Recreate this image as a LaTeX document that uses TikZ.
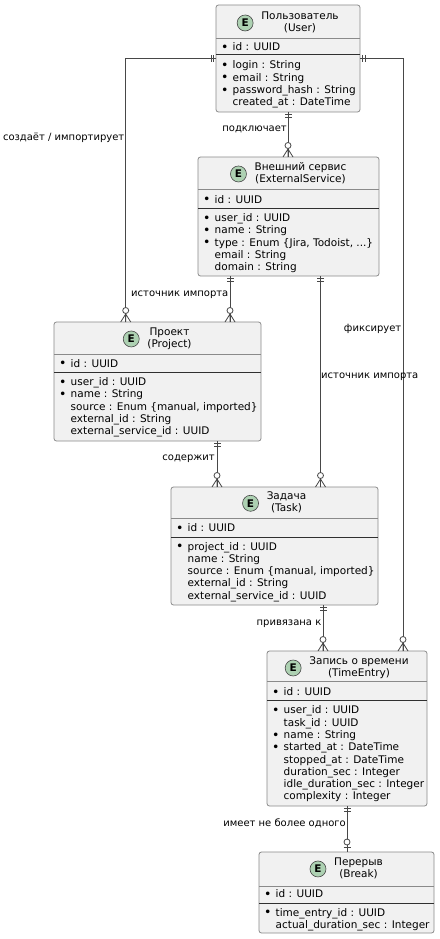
\documentclass[tikz,border=0pt]{standalone}
\usepackage{fontspec}
\setmainfont{DejaVu Sans}
\definecolor{boxf}{HTML}{F1F1F1}
\definecolor{boxc}{HTML}{8A8A8A}
\definecolor{linec}{HTML}{474747}
\definecolor{sepc}{HTML}{303030}
\definecolor{spotc}{HTML}{ADD1B2}
\newcommand\attrfont{\fontsize{10.5}{12.3}\selectfont}
\newcommand\titlefont{\fontsize{10.5}{11.6}\selectfont}
\newcommand\lblfont{\fontsize{10}{12}\selectfont}
\newcommand\spotfont{\fontsize{10.5}{12}\selectfont\bfseries}
\newcommand\entbul{\makebox[11pt][l]{\hspace*{-0.5pt}\raisebox{-0.6pt}{\fontsize{12.5}{12}\selectfont •}}}
\newcommand\entnob{\hspace*{11pt}}
\tikzset{
  ent/.style={draw=boxc, fill=boxf, rounded corners=2.5pt, line width=0.8pt, inner sep=0pt, outer sep=0pt, anchor=north west},
  hdr/.style={draw=boxc, line width=0.8pt},
  idsep/.style={draw=sepc, line width=1pt},
  conn/.style={draw=linec, line width=0.8pt},
  attr/.style={anchor=base west, inner sep=0pt, font=\attrfont},
  ttl/.style={anchor=base, inner sep=0pt, font=\titlefont},
  lbl/.style={inner sep=0pt, font=\lblfont},
  spot/.style={circle, draw=linec, fill=spotc, line width=0.6pt, minimum size=16pt, inner sep=0pt, font=\spotfont},
  onlyone/.pic={\draw[conn] (2.5,-3.5) -- (2.5,3.5) (5,-3.5) -- (5,3.5);},
  zeromany/.pic={\draw[conn] (0,-5) -- (8,0) -- (0,5) (0,0) -- (8,0); \draw[conn, fill=white] (11.5,0) circle[radius=3];},
  zeroone/.pic={\draw[conn] (4.5,-3.5) -- (4.5,3.5); \draw[conn, fill=white] (10,0) circle[radius=3];},
}
\newcommand\mkentity[7]{%
  \node[ent, minimum width=#4pt, minimum height=#5pt] (#1) at (#2,#3) {};
  \draw[hdr] (#1.west |- 0,#6) -- (#1.east |- 0,#6);
  \draw[idsep] (#1.west |- 0,#7) -- (#1.east |- 0,#7);
}
\begin{document}
\begin{tikzpicture}[x=1pt, y=-1pt]
\fill[white] (0,0) rectangle (439,939);
\useasboundingbox (0,0) rectangle (439,939);

% ---------- entities ----------
\mkentity{user}{216}{5}{144}{107}{38}{55}
\mkentity{es}{198}{157}{181}{119}{189}{208}
\mkentity{project}{54}{322}{207}{119}{354}{372}
\mkentity{task}{171}{487}{207}{118}{518}{537}
\mkentity{te}{267}{651}{160}{155}{681}{700}
\mkentity{brk}{259}{852}{175}{81}{886}{903}

% ---------- titles ----------
\node[ttl] (usert) at (user.north |- 0,19.5) {\hspace*{24pt}\begin{tabular}[t]{@{}c@{}}Пользователь\\(User)\end{tabular}};
\node[spot] (users) at ([xshift=8pt]usert.west) {E};
\node[ttl] (est) at (es.north |- 0,170.5) {\hspace*{24pt}\begin{tabular}[t]{@{}c@{}}Внешний сервис\\(ExternalService)\end{tabular}};
\node[spot] (ess) at ([xshift=8pt]est.west) {E};
\node[ttl] (projectt) at (project.north |- 0,335.5) {\hspace*{24pt}\begin{tabular}[t]{@{}c@{}}Проект\\(Project)\end{tabular}};
\node[spot] (projects) at ([xshift=8pt]projectt.west) {E};
\node[ttl] (taskt) at (task.north |- 0,499.8) {\hspace*{24pt}\begin{tabular}[t]{@{}c@{}}Задача\\(Task)\end{tabular}};
\node[spot] (tasks) at ([xshift=8pt]taskt.west) {E};
\node[ttl] (tet) at (te.north |- 0,664.5) {\hspace*{24pt}\begin{tabular}[t]{@{}c@{}}Запись о времени\\(TimeEntry)\end{tabular}};
\node[spot] (tes) at ([xshift=8pt]tet.west) {E};
\node[ttl] (brkt) at (brk.north |- 0,865.5) {\hspace*{24pt}\begin{tabular}[t]{@{}c@{}}Перерыв\\(Break)\end{tabular}};
\node[spot] (brks) at ([xshift=8pt]brkt.west) {E};

% ---------- attributes ----------
\node[attr] (userid) at (221.5,51) {\begin{tabular}[t]{@{}l@{}}\entbul id : UUID\end{tabular}};
\node[attr] (usera) at (221.5,69) {\begin{tabular}[t]{@{}l@{}}\entbul login : String\\\entbul email : String\\\entbul password\_hash : String\\\entnob created\_at : DateTime\end{tabular}};

\node[attr] (esid) at (203.5,203) {\begin{tabular}[t]{@{}l@{}}\entbul id : UUID\end{tabular}};
\node[attr] (esa) at (203.5,221.5) {\begin{tabular}[t]{@{}l@{}}\entbul user\_id : UUID\\\entbul name : String\\\entbul type : Enum \{Jira, Todoist, ...\}\\\entnob email : String\\\entnob domain : String\end{tabular}};

\node[attr] (projectid) at (59.5,367) {\begin{tabular}[t]{@{}l@{}}\entbul id : UUID\end{tabular}};
\node[attr] (projecta) at (59.5,385.5) {\begin{tabular}[t]{@{}l@{}}\entbul user\_id : UUID\\\entbul name : String\\\entnob source : Enum \{manual, imported\}\\\entnob external\_id : String\\\entnob external\_service\_id : UUID\end{tabular}};

\node[attr] (taskid) at (176.5,531.8) {\begin{tabular}[t]{@{}l@{}}\entbul id : UUID\end{tabular}};
\node[attr] (taska) at (176.5,550) {\begin{tabular}[t]{@{}l@{}}\entbul project\_id : UUID\\\entnob name : String\\\entnob source : Enum \{manual, imported\}\\\entnob external\_id : String\\\entnob external\_service\_id : UUID\end{tabular}};

\node[attr] (teid) at (272.5,695.5) {\begin{tabular}[t]{@{}l@{}}\entbul id : UUID\end{tabular}};
\node[attr] (tea) at (272.5,713.8) {\begin{tabular}[t]{@{}l@{}}\entbul user\_id : UUID\\\entnob task\_id : UUID\\\entbul name : String\\\entbul started\_at : DateTime\\\entnob stopped\_at : DateTime\\\entnob duration\_sec : Integer\\\entnob idle\_duration\_sec : Integer\\\entnob complexity : Integer\end{tabular}};

\node[attr] (brkid) at (264.5,897.8) {\begin{tabular}[t]{@{}l@{}}\entbul id : UUID\end{tabular}};
\node[attr] (brka) at (264.5,916.1) {\begin{tabular}[t]{@{}l@{}}\entbul time\_entry\_id : UUID\\\entnob actual\_duration\_sec : Integer\end{tabular}};

% ---------- connectors ----------
\draw[conn] (user.west) -| (project.north -| 125.7,0);
\draw[conn] (user.east) -| (te.north -| 403,0);
\draw[conn] (user.south) -- (user.south |- es.north);
\draw[conn] (es.south -| 230,0) -- (project.north -| 230,0);
\draw[conn] (es.south -| 320.5,0) -- (task.north -| 320.5,0);
\draw[conn] (project.south -| 217,0) -- (task.north -| 217,0);
\draw[conn] (task.south -| 323,0) -- (te.north -| 323,0);
\draw[conn] (te.south -| 347,0) -- (brk.north -| 347,0);

% ---------- end markers ----------
\pic[rotate=180] at (user.west) {onlyone};
\pic[rotate=90] at (project.north -| 125.7,0) {zeromany};
\pic at (user.east) {onlyone};
\pic[rotate=90] at (te.north -| 403,0) {zeromany};
\pic[rotate=-90] at (user.south) {onlyone};
\pic[rotate=90] at (user.south |- es.north) {zeromany};
\pic[rotate=-90] at (es.south -| 230,0) {onlyone};
\pic[rotate=90] at (project.north -| 230,0) {zeromany};
\pic[rotate=-90] at (es.south -| 320.5,0) {onlyone};
\pic[rotate=90] at (task.north -| 320.5,0) {zeromany};
\pic[rotate=-90] at (project.south -| 217,0) {onlyone};
\pic[rotate=90] at (task.north -| 217,0) {zeromany};
\pic[rotate=-90] at (task.south -| 323,0) {onlyone};
\pic[rotate=90] at (te.north -| 323,0) {zeromany};
\pic[rotate=-90] at (te.south -| 347,0) {onlyone};
\pic[rotate=90] at (brk.north -| 347,0) {zeroone};

% ---------- labels ----------
\node[lbl, anchor=base east] (l1) at (124.5,140) {создаёт / импортирует};
\node[lbl, anchor=base east] (l2) at (287,131.5) {подключает};
\node[lbl, anchor=base east] (l3) at (228.5,296.5) {источник импорта};
\node[lbl, anchor=base east] (l4) at (401.5,331) {фиксирует};
\node[lbl, anchor=base west] (l5) at (321,378.5) {источник импорта};
\node[lbl, anchor=base east] (l6) at (215,460) {содержит};
\node[lbl, anchor=base east] (l7) at (321.5,625) {привязана к};
\node[lbl, anchor=base east] (l8) at (346,826) {имеет не более одного};
\end{tikzpicture}
\end{document}
